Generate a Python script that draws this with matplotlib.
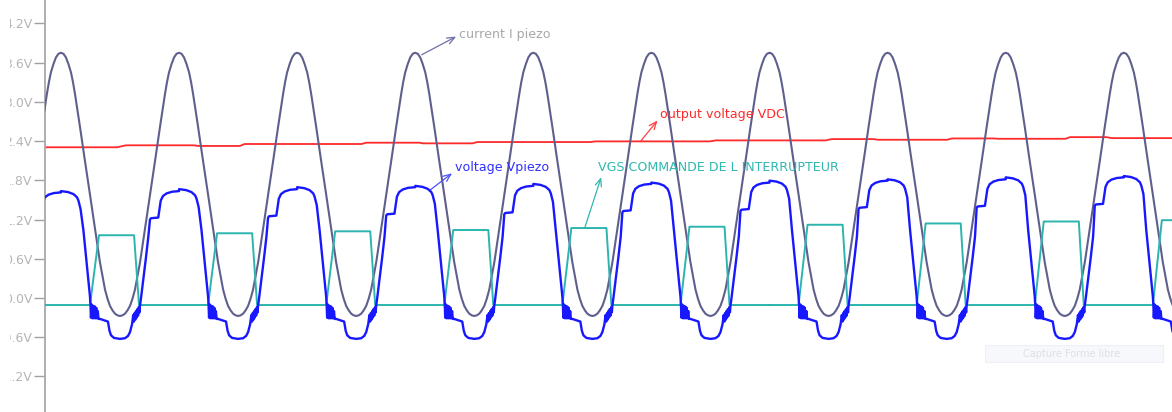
import matplotlib.pyplot as plt
from matplotlib.patches import Rectangle

# time in ms, one period of the piezo = 10 ms
# each cycle is placed around the valley of the piezo current
valley_times = [-3.65, 6.35, 16.35, 26.35, 36.35, 46.35, 56.35, 66.35, 76.35, 86.35, 96.35]
# slow rise of Vpiezo top / VGS plateau from one cycle to the next (V)
cycle_lift = [-0.02, 0.00, 0.03, 0.06, 0.08, 0.11, 0.13, 0.16, 0.18, 0.21, 0.23]

# current I piezo, half period from valley (0) to peak (5 ms)
current_phase = [0.0, 0.21, 0.42, 0.63, 0.85, 1.06, 1.27, 1.70, 2.12, 2.54, 2.97, 3.39,
                 3.81, 3.98, 4.15, 4.37, 4.58, 4.79, 5.0]
current_level = [-0.275, -0.265, -0.24, -0.19, -0.12, -0.01, 0.13, 0.55, 1.06, 1.58, 2.10, 2.62,
                 3.12, 3.30, 3.45, 3.58, 3.68, 3.735, 3.75]

# voltage Vpiezo over one period (ringing bursts around the switching edges)
vpiezo_phase = [-5.0, -4.40, -3.95, -3.64, -3.52, -3.34, -3.10, -2.82, -2.54,
                -2.50, -2.46, -2.39, -2.33, -2.26, -2.20, -2.13, -2.07, -2.01, -1.95, -1.88, -1.82,
                -1.69, -1.02, -0.89, -0.76, -0.51, 0.0, 0.42, 0.68, 0.85, 1.02,
                1.12, 1.18, 1.24, 1.30, 1.35, 1.41, 1.47, 1.53, 1.59, 1.65, 1.69,
                1.78, 1.97, 2.20, 2.40, 2.54, 2.62, 3.24, 3.34, 3.45, 3.64, 3.95, 4.40, 5.0]
vpiezo_level = [1.635, 1.62, 1.59, 1.54, 1.49, 1.36, 1.04, 0.53, 0.02,
                -0.10, -0.30, -0.10, -0.31, -0.12, -0.31, -0.13, -0.31, -0.15, -0.31, -0.20, -0.32,
                -0.32, -0.36, -0.50, -0.57, -0.61, -0.625, -0.615, -0.58, -0.52, -0.40,
                -0.26, -0.36, -0.23, -0.33, -0.20, -0.30, -0.17, -0.27, -0.14, -0.22, -0.12,
                0.0, 0.28, 0.62, 0.94, 1.20, 1.22, 1.23, 1.35, 1.49, 1.56, 1.60, 1.625, 1.635]

# VGS gate command over one period
vgs_phase = [-5.0, -2.54, -1.78, 1.19, 1.61, 5.0]
vgs_level = [-0.107, -0.107, 0.96, 0.96, -0.107, -0.107]

# output voltage VDC
vdc_time = [0.0, 6.10, 6.86, 12.6, 13.0, 16.5, 16.9, 26.8, 27.2, 31.7, 32.0, 36.2, 36.6,
            46.2, 46.6, 56.3, 56.8, 66.1, 66.6, 70.2, 70.5, 76.4, 76.8, 80.35, 80.7,
            86.4, 86.8, 89.9, 90.3, 95.5]
vdc_level = [2.305, 2.305, 2.335, 2.335, 2.325, 2.325, 2.355, 2.355, 2.375, 2.375, 2.365, 2.365, 2.385,
             2.385, 2.395, 2.395, 2.41, 2.41, 2.43, 2.43, 2.42, 2.42, 2.44, 2.44, 2.435,
             2.435, 2.46, 2.46, 2.445, 2.445]

y_ticks = [-1.2, -0.6, 0.0, 0.6, 1.2, 1.8, 2.4, 3.0, 3.6, 4.2]


def build_trace(phase, level, lift_from=None):
    """Repeat one period around every valley, lifting the upper part per cycle."""
    t, v = [], []
    for center, lift in zip(valley_times, cycle_lift):
        for p, y in zip(phase, level):
            t.append(center + p)
            if lift_from is not None and y >= lift_from:
                y = y + lift
            v.append(y)
    return t, v


def label(ax, text, tail, pos, color, arrow_color, relpos):
    # arrow starts on the curve and points at the text
    ax.annotate(text, xy=tail, xytext=pos, color=color, fontsize=9.1,
                va='center', ha='left',
                arrowprops=dict(arrowstyle='<-,head_length=0.6,head_width=0.25',
                                color=arrow_color, lw=0.9, relpos=relpos,
                                shrinkA=0, shrinkB=0))


# current is symmetric around its valley
cur_phase = [-p for p in current_phase[:0:-1]] + current_phase
cur_level = current_level[:0:-1] + current_level

t_cur, v_cur = build_trace(cur_phase, cur_level)
t_vp, v_vp = build_trace(vpiezo_phase, vpiezo_level, lift_from=1.1)
t_vgs, v_vgs = build_trace(vgs_phase, vgs_level, lift_from=0.9)

fig = plt.figure(figsize=(11.72, 4.12), dpi=100)
ax = fig.add_axes([45 / 1172, 0, 1 - 45 / 1172, 1])

ax.plot(vdc_time, vdc_level, color='#ff2a2a', lw=1.3, zorder=2)
ax.plot(t_cur, v_cur, color='#5f5f8e', lw=1.5, zorder=3)
ax.plot(t_vgs, v_vgs, color='#2bb5ae', lw=1.4, zorder=4)
ax.plot(t_vp, v_vp, color='#1818ff', lw=1.7, zorder=5)

ax.set_xlim(0, 95.43)
ax.set_ylim(-1.743, 4.557)

for side in ['top', 'right', 'bottom']:
    ax.spines[side].set_visible(False)
ax.spines['left'].set_color('#a8a8a8')
ax.spines['left'].set_linewidth(1.3)
ax.set_xticks([])
ax.set_yticks(y_ticks)
ax.set_yticklabels([f"{v:.1f}V" for v in y_ticks])
ax.tick_params(axis='y', length=8, width=1, color='#a0a0a0', labelcolor='#b5b5b5',
               labelsize=9, pad=1)

label(ax, 'current I piezo', (31.9, 3.72), (35.05, 4.03), '#a8a8a8', '#6f6fa5', (0, 0.45))
label(ax, 'output voltage VDC', (50.4, 2.39), (52.1, 2.81), '#ff2a2a', '#ff4040', (0.01, 0.4))
label(ax, 'voltage Vpiezo', (32.6, 1.65), (34.7, 2.0), '#3030ff', '#5050ff', (0, 0.2))
label(ax, 'VGS COMMANDE DE L INTERRUPTEUR', (45.7, 1.07), (46.8, 1.99), '#30b8b0', '#30b8b0',
      (0.02, 0.1))

# faint capture tool box in the lower right
fig.add_artist(Rectangle((985 / 1172, 1 - 362 / 412), 178 / 1172, 17 / 412,
                         transform=fig.transFigure, facecolor='#f7f8fc', edgecolor='#eef0f5',
                         lw=0.8, zorder=6))
fig.text(1072 / 1172, 1 - 354 / 412, 'Capture Forme libre', color='#dfe0e6', fontsize=7,
         ha='center', va='center', zorder=7)

# the tick labels are cut at the left border
fig.add_artist(Rectangle((0, 0), 10 / 1172, 1, transform=fig.transFigure,
                         facecolor='white', edgecolor='none', zorder=10))

fig.savefig('out.png', dpi=100)
